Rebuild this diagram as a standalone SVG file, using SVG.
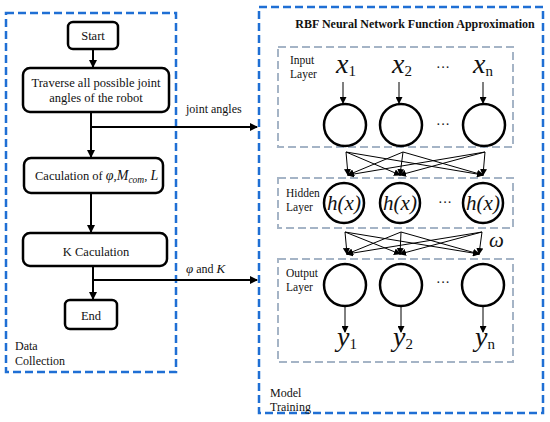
<svg xmlns="http://www.w3.org/2000/svg" width="550" height="422" viewBox="0 0 550 422">
<style>
text{font-family:"Liberation Serif","Times New Roman",serif;fill:#111}
.blue{fill:none;stroke:#1f6fd4;stroke-width:2.5;stroke-dasharray:8 4}
.gray{fill:none;stroke:#a5b4c6;stroke-width:2;stroke-dasharray:8 4}
.box{fill:#fff;stroke:#000;stroke-width:2.5}
.circ{fill:#fff;stroke:#000;stroke-width:2.5}
.thick{stroke:#000;stroke-width:2;fill:none}
.thin{stroke:#000;stroke-width:1;fill:none}
.t12{font-size:12.5px}
.lbl{font-size:12px}
.math{font-style:italic;font-size:28px}
.sub{font-size:15px;font-style:normal}
.hx{font-style:italic;font-size:21px}
</style>
<defs>
<marker id="ah" markerWidth="8" markerHeight="8" refX="7" refY="4" orient="auto" markerUnits="userSpaceOnUse"><path d="M0,0 L8,4 L0,8 Z" fill="#000"/></marker>
<marker id="as" markerWidth="7" markerHeight="7" refX="6" refY="3.5" orient="auto" markerUnits="userSpaceOnUse"><path d="M0,0 L7,3.5 L0,7 Z" fill="#000"/></marker>
</defs>
<rect class="blue" x="6" y="13" width="170" height="359"/>
<rect class="blue" x="259" y="7" width="284" height="406"/>
<g id="containers">
<rect class="gray" x="278" y="47" width="235" height="100"/>
<rect class="gray" x="278" y="178" width="235" height="50"/>
<rect class="gray" x="278" y="259" width="235" height="103"/>
</g>
<g id="connectors">
<line class="thick" x1="93" y1="49" x2="93" y2="67" marker-end="url(#ah)"/>
<line class="thick" x1="91" y1="112" x2="91" y2="157" marker-end="url(#ah)"/>
<line class="thick" x1="91" y1="127" x2="257" y2="127" marker-end="url(#ah)"/>
<line class="thick" x1="91" y1="193" x2="91" y2="232" marker-end="url(#ah)"/>
<line class="thick" x1="93" y1="266" x2="93" y2="299" marker-end="url(#ah)"/>
<line class="thick" x1="93" y1="280" x2="257" y2="280" marker-end="url(#ah)"/>
<line class="thin" x1="343" y1="82" x2="343" y2="103" marker-end="url(#as)"/>
<line class="thin" x1="399" y1="82" x2="399" y2="103" marker-end="url(#as)"/>
<line class="thin" x1="483" y1="82" x2="483" y2="103" marker-end="url(#as)"/>
<line class="thin" x1="346" y1="152" x2="348" y2="175" marker-end="url(#as)"/>
<line class="thin" x1="346" y1="152" x2="400" y2="175" marker-end="url(#as)"/>
<line class="thin" x1="346" y1="152" x2="483" y2="175" marker-end="url(#as)"/>
<line class="thin" x1="403" y1="152" x2="348" y2="175" marker-end="url(#as)"/>
<line class="thin" x1="403" y1="152" x2="400" y2="175" marker-end="url(#as)"/>
<line class="thin" x1="403" y1="152" x2="483" y2="175" marker-end="url(#as)"/>
<line class="thin" x1="485" y1="152" x2="348" y2="175" marker-end="url(#as)"/>
<line class="thin" x1="485" y1="152" x2="400" y2="175" marker-end="url(#as)"/>
<line class="thin" x1="485" y1="152" x2="483" y2="175" marker-end="url(#as)"/>
<line class="thin" x1="345" y1="232" x2="347" y2="254" marker-end="url(#as)"/>
<line class="thin" x1="345" y1="232" x2="400" y2="254" marker-end="url(#as)"/>
<line class="thin" x1="345" y1="232" x2="479" y2="254" marker-end="url(#as)"/>
<line class="thin" x1="401" y1="232" x2="347" y2="254" marker-end="url(#as)"/>
<line class="thin" x1="401" y1="232" x2="400" y2="254" marker-end="url(#as)"/>
<line class="thin" x1="401" y1="232" x2="479" y2="254" marker-end="url(#as)"/>
<line class="thin" x1="482" y1="232" x2="347" y2="254" marker-end="url(#as)"/>
<line class="thin" x1="482" y1="232" x2="400" y2="254" marker-end="url(#as)"/>
<line class="thin" x1="482" y1="232" x2="479" y2="254" marker-end="url(#as)"/>
<line class="thin" x1="345" y1="306" x2="345" y2="332" marker-end="url(#as)"/>
<line class="thin" x1="401" y1="306" x2="401" y2="332" marker-end="url(#as)"/>
<line class="thin" x1="483" y1="306" x2="483" y2="332" marker-end="url(#as)"/>
</g>
<g id="start"><rect class="box" x="68" y="22" width="50" height="27" rx="5"/><text class="t12" x="93" y="40" text-anchor="middle">Start</text></g>
<g id="traverse"><rect class="box" x="23" y="68" width="146" height="44" rx="7"/><text class="t12" x="96" y="87" text-anchor="middle">Traverse all possible joint</text><text class="t12" x="96" y="102" text-anchor="middle">angles of the robot</text></g>
<g id="calc"><rect class="box" x="24" y="158" width="139" height="35" rx="7"/><text class="t12" x="35" y="180">Caculation of  <tspan font-style="italic" font-size="14px">φ</tspan>,<tspan font-style="italic" font-size="14px">M</tspan><tspan font-style="italic" font-size="9.5px" dy="3">com</tspan><tspan dy="-3">, </tspan><tspan font-style="italic" font-size="14px">L</tspan></text></g>
<g id="kcalc"><rect class="box" x="23" y="233" width="144" height="33" rx="7"/><text class="t12" x="96" y="256" text-anchor="middle">K Caculation</text></g>
<g id="end"><rect class="box" x="65" y="300" width="52" height="29" rx="5"/><text class="t12" x="91" y="320" text-anchor="middle">End</text></g>
<g id="edge-labels">
<text class="lbl" x="186" y="113">joint angles</text>
<text class="lbl" x="186" y="273"><tspan font-style="italic" font-size="13px">φ</tspan> and <tspan font-style="italic" font-size="13px">K</tspan></text>
<text class="hx" x="489" y="247" font-size="18px">ω</text>
</g>
<g id="group-labels">
<text class="lbl" x="15" y="350">Data</text>
<text class="lbl" x="15" y="365">Collection</text>
<text class="lbl" x="270" y="397">Model</text>
<text class="lbl" x="270" y="411">Training</text>
<text x="415" y="28" text-anchor="middle" font-weight="bold" font-size="12px">RBF Neural Network Function Approximation</text>
<text x="290" y="64" font-size="11.5px">Input</text>
<text x="290" y="78" font-size="11.5px">Layer</text>
<text x="286" y="197" font-size="11.5px">Hidden</text>
<text x="286" y="211" font-size="11.5px">Layer</text>
<text x="286" y="277" font-size="11.5px">Output</text>
<text x="286" y="291" font-size="11.5px">Layer</text>
</g>
<g id="input-layer">
<text class="math" x="336" y="73">x<tspan class="sub" dy="3">1</tspan></text>
<text class="math" x="392" y="73">x<tspan class="sub" dy="3">2</tspan></text>
<text x="443" y="72" font-size="14px" text-anchor="middle">···</text>
<text class="math" x="473" y="73">x<tspan class="sub" font-style="italic" dy="3">n</tspan></text>
<circle class="circ" cx="345" cy="125" r="21"/>
<circle class="circ" cx="401" cy="125" r="21"/>
<text x="443" y="129" font-size="14px" text-anchor="middle">···</text>
<circle class="circ" cx="484" cy="125" r="21"/>
</g>
<g id="hidden-layer">
<circle class="circ" cx="344" cy="203" r="20"/>
<circle class="circ" cx="400" cy="203" r="20"/>
<circle class="circ" cx="483" cy="203" r="20"/>
<text class="hx" x="344" y="210" text-anchor="middle">h(x)</text>
<text class="hx" x="400" y="210" text-anchor="middle">h(x)</text>
<text x="445" y="207" font-size="14px" text-anchor="middle">···</text>
<text class="hx" x="483" y="210" text-anchor="middle">h(x)</text>
</g>
<g id="output-layer">
<circle class="circ" cx="345" cy="285" r="21"/>
<circle class="circ" cx="401" cy="285" r="21"/>
<text x="443" y="287" font-size="14px" text-anchor="middle">···</text>
<circle class="circ" cx="483" cy="285" r="21"/>
<text class="math" x="337" y="346">y<tspan class="sub" dy="3">1</tspan></text>
<text class="math" x="393" y="346">y<tspan class="sub" dy="3">2</tspan></text>
<text class="math" x="475" y="346">y<tspan class="sub" font-style="italic" dy="3">n</tspan></text>
</g>
</svg>
